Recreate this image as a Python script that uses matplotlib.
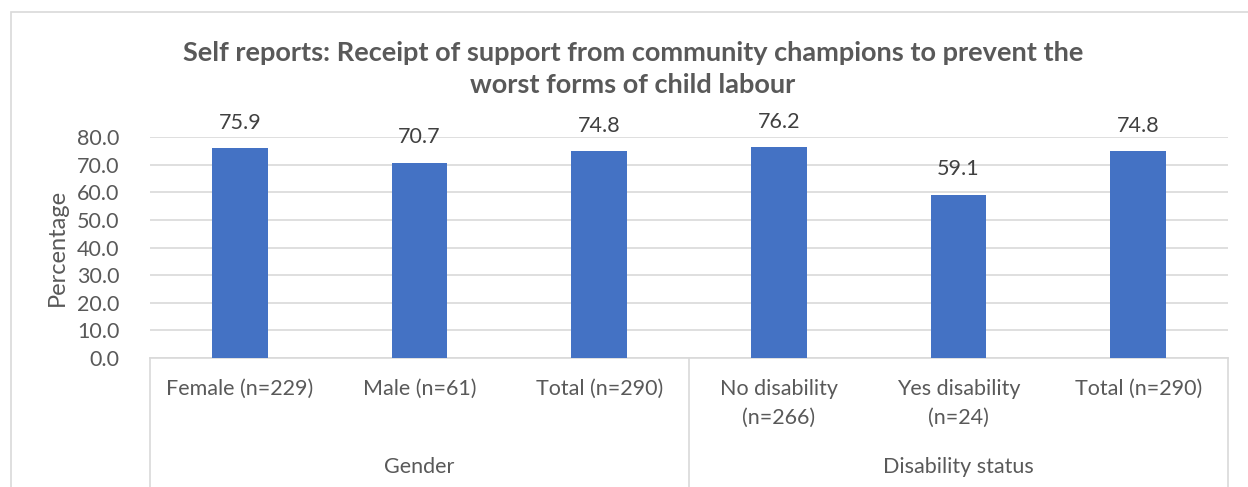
import matplotlib.pyplot as plt
import matplotlib.transforms as mtransforms
from matplotlib.patches import Rectangle

# data
categories = ['Female (n=229)', 'Male (n=61)', 'Total (n=290)',
              'No disability\n(n=266)', 'Yes disability\n(n=24)', 'Total (n=290)']
values = [75.9, 70.7, 74.8, 76.2, 59.1, 74.8]
groups = ['Gender', 'Disability status']
group_sizes = [3, 3]
yticks = [0, 10, 20, 30, 40, 50, 60, 70, 80]

BAR = '#4472C4'
GRID = '#D9D9D9'
TXT = '#595959'
FONT = 'Lato'

plt.rcParams['font.family'] = [FONT, 'DejaVu Sans']

fig = plt.figure(figsize=(12.48, 4.87), dpi=100)
ax = fig.add_axes([150 / 1248, 1 - 358 / 487, (1228 - 150) / 1248, (358 - 137) / 487])

# outer chart frame
fig.patches.append(Rectangle((11 / 1248, -0.1), 1.2, 1 - 12 / 487 + 0.1,
                             transform=fig.transFigure, fill=False,
                             edgecolor=GRID, linewidth=1.2))

x = list(range(len(categories)))
ax.bar(x, values, width=0.31, color=BAR, zorder=3)

for xi, v in zip(x, values):
    ax.annotate(f'{v:.1f}', (xi, v), xytext=(0, 11), textcoords='offset points',
                ha='center', va='bottom', fontsize=15.5, color='#404040')

ax.set_xlim(-0.5, len(categories) - 0.5)
ax.set_ylim(0, 80)
ax.set_yticks(yticks)
ax.set_yticklabels([f'{t:.1f}' for t in yticks], fontsize=15.5, color=TXT)
ax.tick_params(axis='y', length=0, pad=22)
ax.set_xticks([])
ax.yaxis.grid(True, color=GRID, linewidth=1.2, zorder=0)
for s in ['top', 'right', 'left']:
    ax.spines[s].set_visible(False)
ax.spines['bottom'].set_color(GRID)
ax.spines['bottom'].set_linewidth(1.2)

ax.set_ylabel('Percentage', fontsize=17, color=TXT)
ax.yaxis.set_label_coords(-0.076, 0.5)

# multi-level category axis
trans = mtransforms.blended_transform_factory(ax.transData, ax.transAxes)
edges = [-0.5]
for n in group_sizes:
    edges.append(edges[-1] + n)
for e in edges:
    ax.plot([e, e], [0, -0.7], transform=trans, color=GRID, linewidth=1.2,
            clip_on=False)

for xi, lab in zip(x, categories):
    ax.text(xi, -0.095, lab, transform=trans, ha='center', va='top',
            fontsize=15.5, color=TXT, linespacing=1.55)

start = -0.5
for g, n in zip(groups, group_sizes):
    ax.text(start + n / 2, -0.45, g, transform=trans, ha='center', va='top',
            fontsize=15.5, color=TXT)
    start += n

fig.text(633 / 1248, 1 - 69 / 487,
         'Self reports: Receipt of support from community champions to prevent the\nworst forms of child labour',
         ha='center', va='center', fontsize=19.5, fontweight='bold', color=TXT,
         linespacing=1.4)

fig.savefig('out.png', dpi=100)
